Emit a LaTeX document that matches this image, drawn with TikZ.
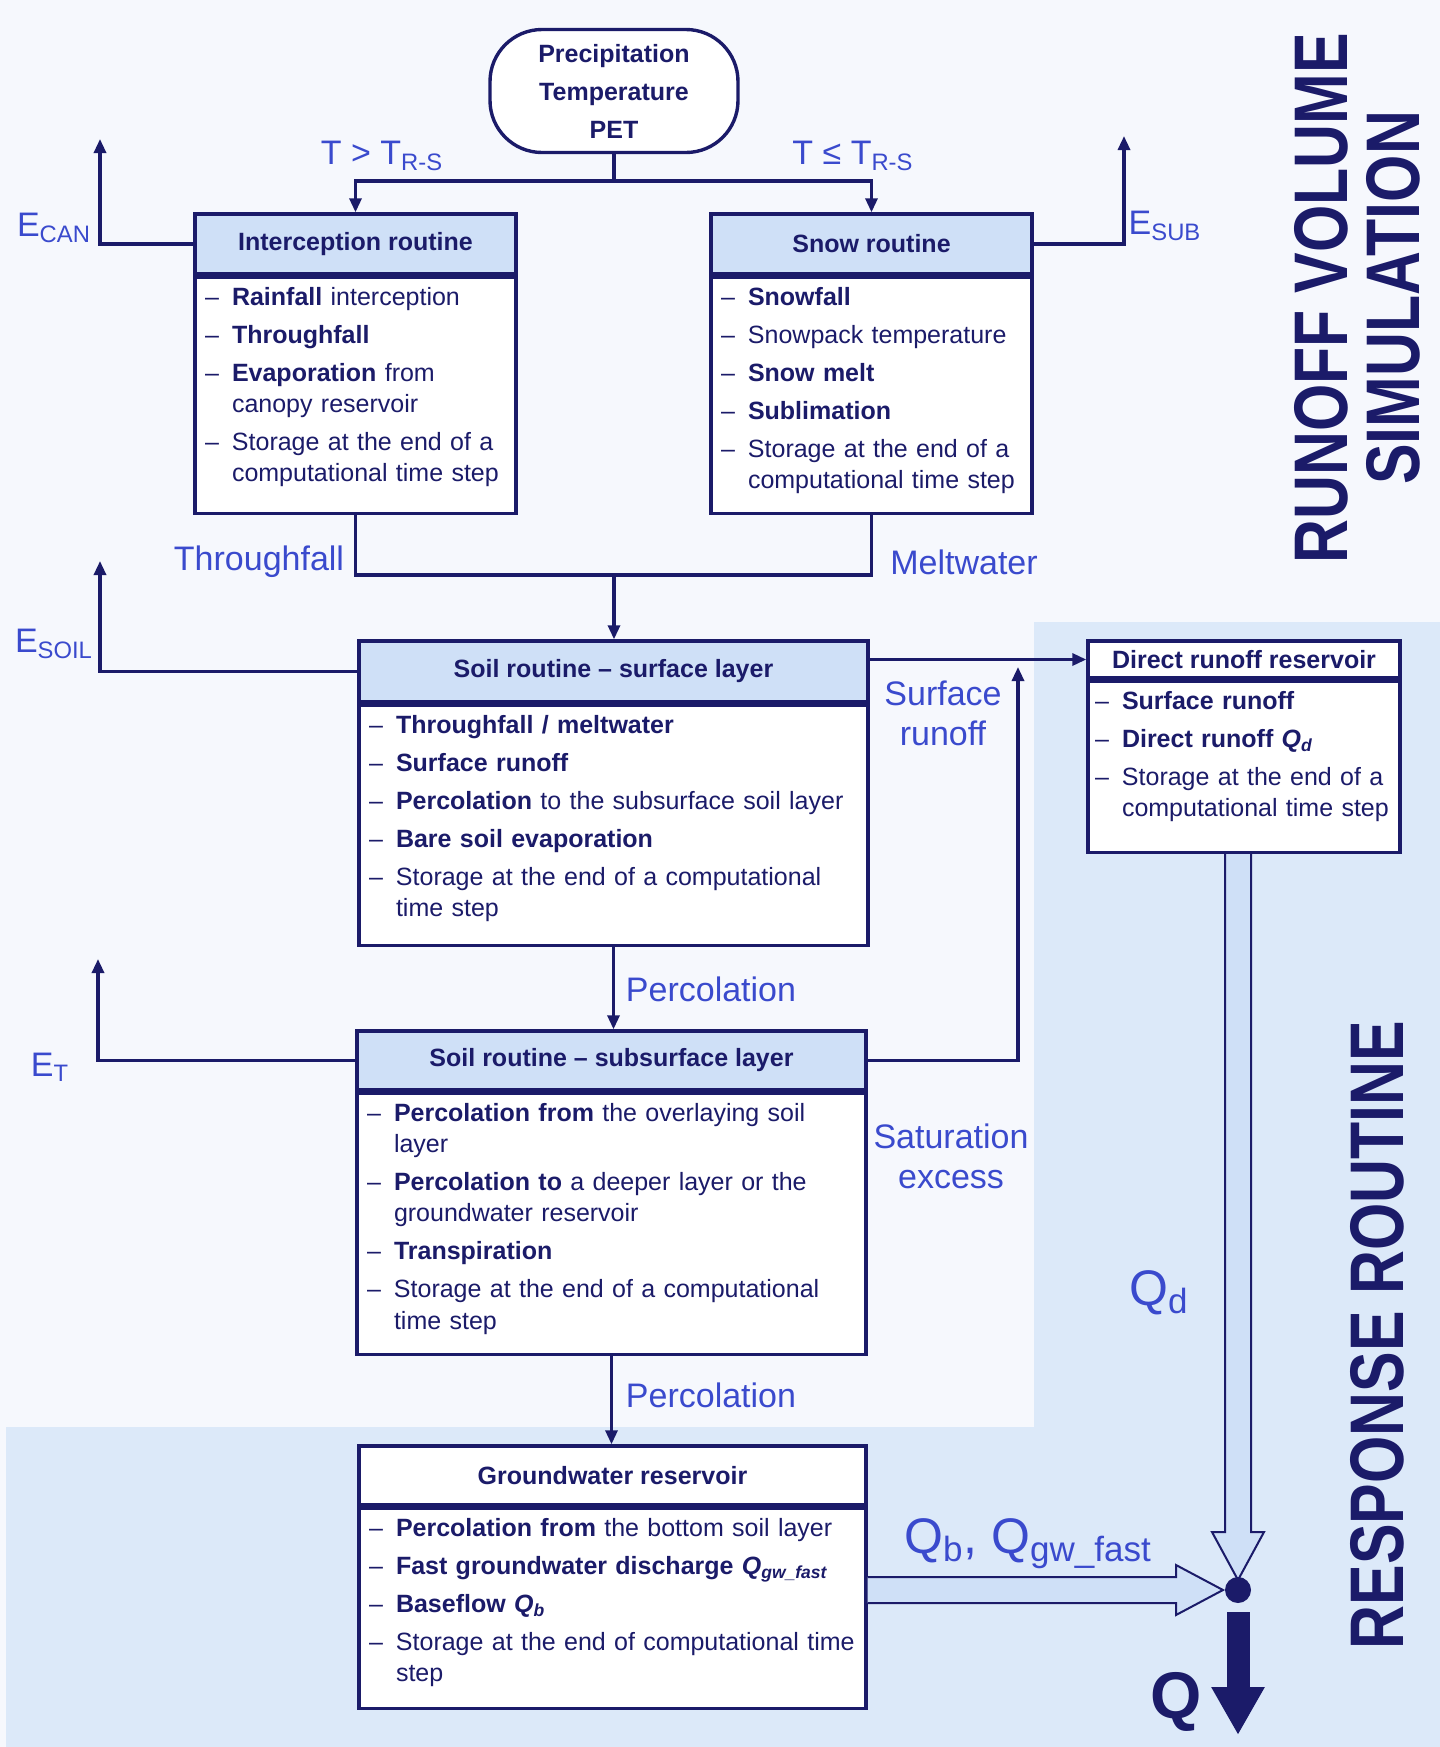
\documentclass[tikz,border=0pt]{standalone}
\usepackage{fontspec}
\setmainfont{Liberation Sans}
\newfontfamily\narrowfont[FakeStretch=0.8]{Liberation Sans}
\usepackage{tikz}
\usetikzlibrary{positioning}
\usetikzlibrary{calc}
\usetikzlibrary{arrows.meta}
\definecolor{navy}{RGB}{27,27,105}
\definecolor{lblue}{RGB}{58,74,205}
\definecolor{headblue}{RGB}{207,224,247}
\definecolor{paleblue}{RGB}{220,233,249}
\definecolor{offwhite}{RGB}{246,248,253}
\newcommand{\entries}[2]{\parbox[t][#1][t]{\linewidth}{\raggedright\setlength{\parskip}{3.4pt}#2}}
\newcommand{\itm}[1]{\par\noindent\hangindent=13.5pt\hangafter=1\makebox[13.5pt][l]{--}#1}
\tikzset{%
  flow/.style = {-{Triangle[length=7pt,width=6pt]},draw=navy,line width=1.6pt},
  link/.style = {draw=navy,line width=1.6pt},
  headbox/.style 2 args = {rectangle,draw=navy,line width=1.7pt,fill=headblue,
        text=navy,minimum width=#1,minimum height=#2,inner sep=2pt,
        font=\bfseries\fontsize{12.5}{15}\selectfont},
  bodybox/.style = {rectangle,draw=navy,line width=1.7pt,fill=white,text=navy,
        text width=#1,inner xsep=5pt,inner ysep=5pt,
        font=\fontsize{12.5}{15.6}\selectfont},
  terminal/.style = {rectangle,draw=navy,line width=1.7pt,fill=white,text=navy,
        rounded corners=26pt,minimum width=124pt,minimum height=61.5pt,align=center,
        font=\bfseries\fontsize{12.5}{19}\selectfont},
  lbl/.style = {text=lblue,inner sep=1pt,font=\fontsize{17}{20}\selectfont},
  hollow/.style = {draw=navy,line width=1pt,fill=headblue}
}

\begin{document}
\begin{tikzpicture}[x=0.5pt,y=-0.5pt,node distance=0pt]
        % background
        \useasboundingbox (0,0) rectangle (1440,1747);
        \fill[offwhite] (0,0) rectangle (1440,1747);
        \fill[paleblue] (1034,622) -- (1440,622) -- (1440,1747) -- (6,1747)
                -- (6,1427) -- (1034,1427) -- cycle;

        % inputs
        \node[terminal] (input) at (614,91) {Precipitation\\Temperature\\PET};

        % runoff volume boxes
        \node[headbox={160.5pt}{30pt}] (icpt) at (355.5,244) {Interception routine};
        \node[bodybox=150.5pt] (icpt-b) [below=of icpt] {\entries{108pt}{%
                \itm{\textbf{Rainfall} interception}
                \itm{\textbf{Throughfall}}
                \itm{\textbf{Evaporation} from\newline canopy reservoir}
                \itm{Storage at the end of a\newline computational time step}}};
        \node[headbox={160.5pt}{30pt}] (snow) at (871.5,244) {Snow routine};
        \node[bodybox=150.5pt] (snow-b) [below=of snow] {\entries{108pt}{%
                \itm{\textbf{Snowfall}}
                \itm{Snowpack temperature}
                \itm{\textbf{Snow melt}}
                \itm{\textbf{Sublimation}}
                \itm{Storage at the end of a\newline computational time step}}};
        \node[headbox={254.5pt}{30.5pt}] (soil) at (613.5,671.5) {Soil routine -- surface layer};
        \node[bodybox=244.5pt] (soil-b) [below=of soil] {\entries{110pt}{%
                \itm{\textbf{Throughfall / meltwater}}
                \itm{\textbf{Surface runoff}}
                \itm{\textbf{Percolation} to the subsurface soil layer}
                \itm{\textbf{Bare soil evaporation}}
                \itm{Storage at the end of a computational\newline time step}}};
        \node[headbox={254.5pt}{29.5pt}] (sub) at (611.5,1060.5) {Soil routine -- subsurface layer};
        \node[bodybox=244.5pt] (sub-b) [below=of sub] {\entries{120.5pt}{%
                \itm{\textbf{Percolation from} the overlaying soil\newline layer}
                \itm{\textbf{Percolation to} a deeper layer or the\newline groundwater reservoir}
                \itm{\textbf{Transpiration}}
                \itm{Storage at the end of a computational\newline time step}}};

        % response boxes
        \node[headbox={253.5pt}{29.5pt},fill=white] (gw) at (612.5,1475.5) {Groundwater reservoir};
        \node[bodybox=243.5pt] (gw-b) [below=of gw] {\entries{90pt}{%
                \itm{\textbf{Percolation from} the bottom soil layer}
                \itm{\textbf{Fast groundwater discharge \textit{Q}\textsubscript{\textit{gw\_fast}}}}
                \itm{\textbf{Baseflow \textit{Q}\textsubscript{\textit{b}}}}
                \itm{Storage at the end of computational time\newline step}}};
        \node[headbox={156pt}{18.5pt},fill=white] (dr) at (1244,659.5) {Direct runoff reservoir};
        \node[bodybox=149pt,inner xsep=3.5pt] (dr-b) [below=of dr] {\entries{75.5pt}{%
                \itm{\textbf{Surface runoff}}
                \itm{\textbf{Direct runoff \textit{Q}\textsubscript{\textit{d}}}}
                \itm{Storage at the end of a\newline computational time step}}};

        \coordinate (split) at (614,181);
        \coordinate (merge) at (614,575);
        \coordinate (ecan) at (100,139);
        \coordinate (esub) at (1124,136);
        \coordinate (esoil) at (100,561);
        \coordinate (et) at (98,959);
        \coordinate (satx) at (1018,667);
        \coordinate (junc) at (1238,1590);
        \coordinate (qout) at (1238,1735);

        % connectors
        \draw[link] (input.south) -- (split);
        \draw[flow] (split) -| (icpt.north);
        \draw[flow] (split) -| (snow.north);
        \draw[flow] (icpt.west) -| (ecan);
        \draw[flow] (snow.east) -| (esub);
        \draw[link] (icpt-b.south) |- (merge) -| (snow-b.south);
        \draw[flow] (merge) -- (merge |- soil.north);
        \draw[flow] (soil.west) -| (esoil);
        \draw[flow] (dr.west -| soil.east) -- (dr.west);
        \draw[flow] (sub.east) -| (satx);
        \draw[flow] (sub.west) -| (et);
        \draw[flow] (soil-b.south) -- (soil-b.south |- sub.north);
        \draw[flow] (sub-b.south) -- (sub-b.south |- gw.north);

        % block arrows to the outlet
        \filldraw[hollow] ($(dr-b.south -| junc)+(-13,0)$) -- ($(junc)+(-13,-58)$)
                -- ($(junc)+(-26,-58)$) -- ($(junc)+(0,-10)$) -- ($(junc)+(26,-58)$)
                -- ($(junc)+(13,-58)$) -- ($(dr-b.south -| junc)+(13,0)$);
        \filldraw[hollow] ($(gw-b.east |- junc)+(0,-13)$) -- ($(junc)+(-62,-13)$)
                -- ($(junc)+(-62,-25)$) -- ($(junc)+(-15,0)$) -- ($(junc)+(-62,25)$)
                -- ($(junc)+(-62,13)$) -- ($(gw-b.east |- junc)+(0,13)$);
        \node[circle,fill=navy,minimum size=13pt,inner sep=0pt] (dot) at (junc) {};
        \draw[-{Triangle[length=24pt,width=25pt]},navy,line width=11.5pt]
                ($(dot.south)+(0,9)$) -- (qout);

        % labels
        \node[lbl] (l-gt) at (382,156) {T > T\textsubscript{R-S}};
        \node[lbl] (l-le) at (853,156) {T ≤ T\textsubscript{R-S}};
        \node[lbl] (l-ecan) at (54,228) {E\textsubscript{CAN}};
        \node[lbl] (l-esub) at (1165,226) {E\textsubscript{SUB}};
        \node[lbl] (l-thr) at (259,562) {Throughfall};
        \node[lbl] (l-melt) at (964,562) {Meltwater};
        \node[lbl] (l-esoil) at (54,644) {E\textsubscript{SOIL}};
        \node[lbl,align=center] (l-surf) at (943,713) {Surface\\runoff};
        \node[lbl] (l-perc1) at (711,989) {Percolation};
        \node[lbl] (l-et) at (50,1067) {E\textsubscript{T}};
        \node[lbl,align=center] (l-sat) at (951,1156) {Saturation\\excess};
        \node[lbl] (l-perc2) at (711,1395) {Percolation};
        \node[lbl,font=\fontsize{25}{28}\selectfont] (l-qd) at (1159,1293) {Q\textsubscript{d}};
        \node[lbl,font=\fontsize{25}{28}\selectfont] (l-qbgw) at (1028,1544) {Q\textsubscript{b}, Q\textsubscript{gw\_fast}};
        \node[text=navy,font=\bfseries\fontsize{33}{36}\selectfont] (l-q) at (1176,1702) {Q};

        % section titles
        \node[rotate=90,text=navy,align=center,font=\narrowfont\bfseries\fontsize{38}{36}\selectfont]
                (rvs) at (1357,298) {RUNOFF VOLUME\\SIMULATION};
        \node[rotate=90,text=navy,font=\narrowfont\bfseries\fontsize{38}{36}\selectfont]
                (resp) at (1377,1335) {RESPONSE ROUTINE};
    \end{tikzpicture}
\end{document}
